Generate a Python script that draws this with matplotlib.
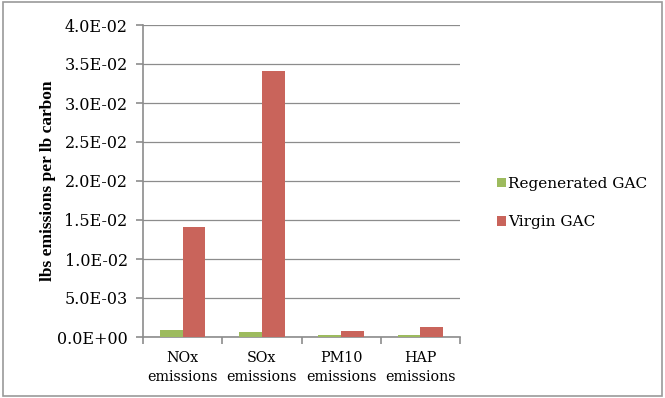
import numpy as np
import matplotlib
matplotlib.use("Agg")
import matplotlib.pyplot as plt
from matplotlib.patches import Rectangle
from matplotlib.ticker import FuncFormatter

categories = ["NOx\nemissions", "SOx\nemissions", "PM10\nemissions", "HAP\nemissions"]
regenerated = [0.0009, 0.0007, 0.0002, 0.0002]
virgin = [0.0141, 0.0341, 0.0008, 0.0013]
series_names = ["Regenerated GAC", "Virgin GAC"]

plt.rcParams["font.family"] = ["DejaVu Serif"]

fig = plt.figure(figsize=(6.65, 3.98), dpi=100)
# grey frame round the whole chart
fig.patches.append(Rectangle((0.005, 0.005), 0.99, 0.99, transform=fig.transFigure,
                             fill=False, edgecolor="#9a9a9a", linewidth=1.2))

ax = fig.add_axes([143 / 665, 1 - 337 / 398, (460 - 143) / 665, (337 - 25) / 398])

x = np.arange(len(categories))
w = 1 / 3.5
ax.bar(x - w / 2, regenerated, w, color="#9DBB5E", label=series_names[0], zorder=3)
ax.bar(x + w / 2, virgin, w, color="#C9645B", label=series_names[1], zorder=3)

ax.set_xlim(-0.5, len(categories) - 0.5)
ax.set_ylim(0, 0.04)
ax.set_yticks(np.arange(0, 0.0401, 0.005))
ax.yaxis.set_major_formatter(FuncFormatter(lambda v, p: "%.1E" % v))
ax.grid(axis="y", color="#8c8c8c", linewidth=0.9, zorder=0)

for s in ["top", "right"]:
    ax.spines[s].set_visible(False)
for s in ["left", "bottom"]:
    ax.spines[s].set_color("#8c8c8c")
    ax.spines[s].set_linewidth(1.2)

ax.set_xticks(x)
ax.set_xticklabels(categories, fontsize=10.3, linespacing=1.45)
ax.tick_params(axis="x", length=0, pad=10)
ax.set_xticks(np.arange(-0.5, len(categories)), minor=True)
ax.tick_params(axis="x", which="minor", length=5, color="#8c8c8c", width=1.2)
ax.tick_params(axis="y", length=5, color="#8c8c8c", width=1.2, labelsize=11.5, pad=6)

ax.set_ylabel("lbs emissions per lb carbon", fontsize=12.5, fontweight="bold", labelpad=1,
              family="Liberation Serif")

ax.legend(loc="center left", bbox_to_anchor=(483 / 665, 0.49), bbox_transform=fig.transFigure,
          frameon=False, fontsize=11, handlelength=0.6, handleheight=0.6,
          handletextpad=0.15, labelspacing=1.6)

fig.savefig("out.png", dpi=100)
